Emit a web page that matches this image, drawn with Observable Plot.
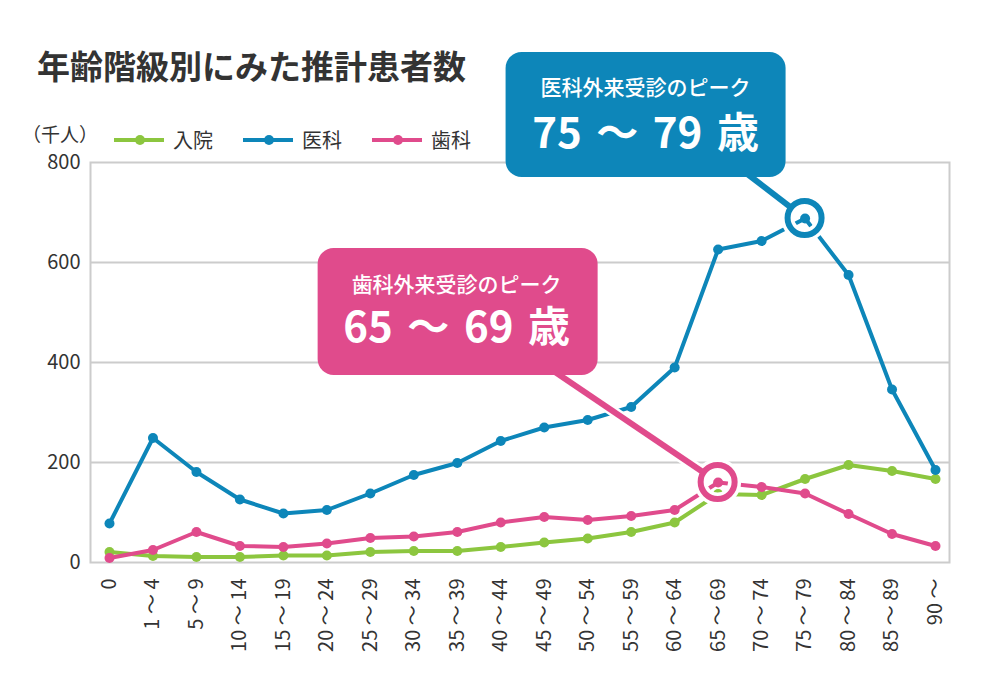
<!DOCTYPE html>
<html>
<head>
<meta charset="utf-8">
<script src="https://cdn.jsdelivr.net/npm/d3@7"></script>
<script src="https://cdn.jsdelivr.net/npm/@observablehq/plot@0.6"></script>
<style>
  body { margin: 0; background: #fff; }
  #wrap { position: relative; width: 1000px; height: 680px; overflow: hidden; background: #fff;
          font-family: "Noto Sans CJK JP", "Noto Sans", sans-serif; color: #333; }
  #wrap svg.plot { position: absolute; left: 0; top: 0; }
  #title { position: absolute; left: 37px; top: 49px; font-size: 33px; font-weight: bold; line-height: 1; white-space: nowrap; color: #333; }
  #unit { position: absolute; left: 22px; top: 124px; font-size: 19px; line-height: 1; white-space: nowrap; color: #333; }
  #legend { position: absolute; left: 114px; top: 128px; display: flex; align-items: center; height: 24px; }
  .item { display: flex; align-items: center; margin-right: 30px; }
  .item svg { display: block; }
  .item span { margin-left: 9px; font-size: 20px; line-height: 1; color: #333; white-space: nowrap; }
</style>
</head>
<body>
<div id="wrap">
  <div id="title"></div>
  <div id="unit"></div>
  <div id="legend"></div>
</div>
<script>
// ---- data ----
const chartTitle = "年齢階級別にみた推計患者数";
const unitLabel = "（千人）";
const ageGroups = ["0","1 〜 4","5 〜 9","10 〜 14","15 〜 19","20 〜 24","25 〜 29","30 〜 34","35 〜 39","40 〜 44",
                   "45 〜 49","50 〜 54","55 〜 59","60 〜 64","65 〜 69","70 〜 74","75 〜 79","80 〜 84","85 〜 89","90 〜"];
const inpatient = [21,13,11,11,14,14,21,23,23,31,40,48,61,80,137,135,167,195,183,167];
const medical   = [78,249,181,126,98,105,138,175,199,243,270,285,311,390,626,643,688,575,346,185];
const dental    = [9,25,61,33,31,38,49,52,61,80,91,85,93,105,160,151,138,97,57,33];
const seriesNames = ["入院","医科","歯科"];
const seriesColors = ["#8cc63f","#0d86b9","#e04b8c"];
const yTicks = [0,200,400,600,800];
const gridValues = [200,400,600];

// peak callouts
const peakSeries = ["医科","歯科"];
const peakAges = ["75 〜 79","65 〜 69"];
const peakHeads = ["医科外来受診のピーク","歯科外来受診のピーク"];
const peakLabels = ["75 〜 79 歳","65 〜 69 歳"];

// ---- layout of callouts (offsets from the highlighted point, px) ----
const calloutLayout = [
  {left:-299, top:-166, w:280, h:125, tx:-65, ty:-50, cx:-159, y1:-123, y2:-70},
  {left:-400, top:-234, w:280, h:127, tx:-170, ty:-115, cx:-261, y1:-190, y2:-140}
];

const seriesValues = [inpatient, medical, dental];
const rows = seriesNames.flatMap((s, i) =>
  seriesValues[i].map((v, j) => ({age: ageGroups[j], value: v, series: s})));

// ---- title / legend ----
document.getElementById("title").textContent = chartTitle;
document.getElementById("unit").textContent = unitLabel;
const legend = d3.select("#legend");
seriesNames.forEach((s, i) => {
  const it = legend.append("div").attr("class", "item");
  const sv = it.append("svg").attr("width", 50).attr("height", 12);
  sv.append("line").attr("x1", 0).attr("x2", 50).attr("y1", 6).attr("y2", 6)
    .attr("stroke", seriesColors[i]).attr("stroke-width", 4);
  sv.append("circle").attr("cx", 26).attr("cy", 6).attr("r", 5).attr("fill", seriesColors[i]);
  it.append("span").text(s);
});

// ---- callout render mark ----
function callouts(index, scales) {
  const g = d3.create("svg:g");
  peakAges.forEach((age, i) => {
    const s = peakSeries[i];
    const v = seriesValues[seriesNames.indexOf(s)][ageGroups.indexOf(age)];
    const px = scales.x(age), py = scales.y(v);
    const col = scales.color(s);
    const L = calloutLayout[i];
    const r = 17;
    const sx = px + L.tx, sy = py + L.ty;
    const len = Math.hypot(px - sx, py - sy);
    const ex = px - (px - sx) / len * r, ey = py - (py - sy) / len * r;
    // halos
    g.append("line").attr("x1", sx).attr("y1", sy).attr("x2", ex).attr("y2", ey)
      .attr("stroke", "white").attr("stroke-width", 11);
    g.append("circle").attr("cx", px).attr("cy", py).attr("r", r)
      .attr("fill", "none").attr("stroke", "white").attr("stroke-width", 13);
    // pointer + ring
    g.append("line").attr("x1", sx).attr("y1", sy).attr("x2", ex).attr("y2", ey)
      .attr("stroke", col).attr("stroke-width", 6);
    g.append("circle").attr("cx", px).attr("cy", py).attr("r", r)
      .attr("fill", "none").attr("stroke", col).attr("stroke-width", 6);
    // box
    g.append("rect").attr("x", px + L.left).attr("y", py + L.top)
      .attr("width", L.w).attr("height", L.h).attr("rx", 16).attr("fill", col);
    g.append("text").attr("x", px + L.cx).attr("y", py + L.y1)
      .attr("text-anchor", "middle").attr("fill", "white")
      .attr("font-size", 21).attr("font-weight", 500).text(peakHeads[i]);
    g.append("text").attr("x", px + L.cx).attr("y", py + L.y2)
      .attr("text-anchor", "middle").attr("fill", "white")
      .attr("font-size", 42).attr("font-weight", "bold")
      .attr("style", "word-spacing: 5px; white-space: pre")
      .text(peakLabels[i]);
  });
  return g.node();
}

const chart = Plot.plot({
  width: 1000,
  height: 680,
  marginLeft: 90,
  marginRight: 51,
  marginTop: 162,
  marginBottom: 118,
  style: {fontFamily: '"Noto Sans CJK JP", "Noto Sans", sans-serif', color: "#333", background: "transparent", overflow: "visible"},
  x: {type: "point", domain: ageGroups, range: [109, 935], padding: 0, round: false, label: null},
  y: {domain: [0, 800], label: null},
  color: {domain: seriesNames, range: seriesColors},
  marks: [
    Plot.ruleY(gridValues, {stroke: "#cccccc", strokeWidth: 2}),
    Plot.frame({stroke: "#cccccc", strokeWidth: 2}),
    Plot.axisY({ticks: yTicks, tickSize: 0, tickPadding: 10, fontSize: 20, label: null}),
    Plot.axisX({tickSize: 0, tickRotate: -90, tickPadding: 16, fontSize: 20, label: null}),
    Plot.line(rows, {x: "age", y: "value", z: "series", stroke: "series", strokeWidth: 4}),
    Plot.dot(rows, {x: "age", y: "value", fill: "series", r: 5}),
    callouts
  ]
});
document.getElementById("wrap").prepend(chart);
</script>
</body>
</html>
